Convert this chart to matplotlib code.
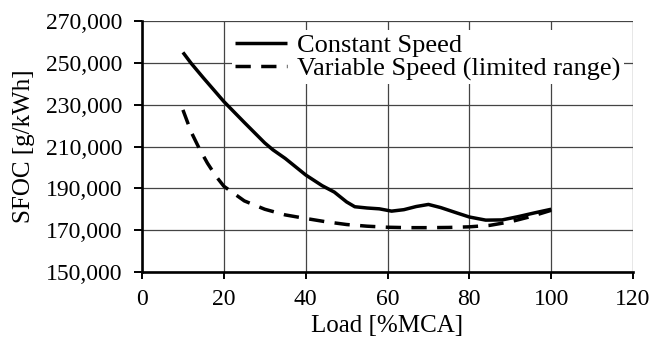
import matplotlib
matplotlib.use("Agg")
import matplotlib.pyplot as plt
from matplotlib.ticker import FuncFormatter

plt.rcParams['font.family'] = ['Liberation Serif', 'DejaVu Serif']

const_load = [10, 12, 15, 20, 25, 30, 32, 35, 40, 44, 47, 50, 52, 55, 58, 61, 64, 67, 70, 73, 77, 80, 84, 88, 92, 96, 100]
const_sfoc = [255000, 249800, 242800, 231500, 221500, 211700, 208400, 204300, 196400, 191300, 188200, 183500,
              181200, 180600, 180200, 179100, 179800, 181300, 182300, 180800, 178200, 176300, 174800, 174900,
              176500, 178300, 180000]

var_load = [10, 12, 14, 16, 18, 20, 25, 30, 35, 40, 45, 50, 55, 60, 65, 70, 75, 80, 85, 90, 95, 100]
var_sfoc = [227500, 217000, 209000, 202000, 196000, 191000, 184000, 180000, 177300, 175600, 174000, 172700,
            171900, 171400, 171200, 171200, 171300, 171600, 172300, 174000, 176500, 179500]

x_ticks = [0, 20, 40, 60, 80, 100, 120]
y_ticks = [150000, 170000, 190000, 210000, 230000, 250000, 270000]

fig = plt.figure(figsize=(6.63, 3.40), dpi=100)
ax = fig.add_axes([0.2142, 0.2, 0.7406, 0.7382])

ax.plot(const_load, const_sfoc, color='black', lw=2.5, label='Constant Speed', solid_capstyle='butt')
ax.plot(var_load, var_sfoc, color='black', lw=2.5, dashes=(4.4, 3.0), label='Variable Speed (limited range)')

ax.set_xlim(0, 120)
ax.set_ylim(150000, 270000)
ax.set_xticks(x_ticks)
ax.set_yticks(y_ticks)
ax.yaxis.set_major_formatter(FuncFormatter(lambda v, p: f"{int(v):,}"))
ax.grid(True, color='#444444', lw=0.9)
ax.set_axisbelow(True)
for s in ['top', 'right']:
    ax.spines[s].set_visible(False)
for s in ['left', 'bottom']:
    ax.spines[s].set_linewidth(1.9)
ax.tick_params(axis='y', labelsize=17, length=6, width=1.4, direction='out', pad=8)
ax.tick_params(axis='x', labelsize=17, length=5, width=1.4, direction='out', pad=7)

ax.set_xlabel('Load [%MCA]', fontsize=18, labelpad=4)
ax.set_ylabel('SFOC [g/kWh]', fontsize=18, labelpad=8)

leg = ax.legend(loc='upper right', fontsize=19, frameon=True, framealpha=1, edgecolor='none',
                facecolor='white', handlelength=1.95, handletextpad=0.4, borderpad=0.12,
                labelspacing=0.0, borderaxespad=0.35, fancybox=False)

fig.savefig('out.png', dpi=100)
